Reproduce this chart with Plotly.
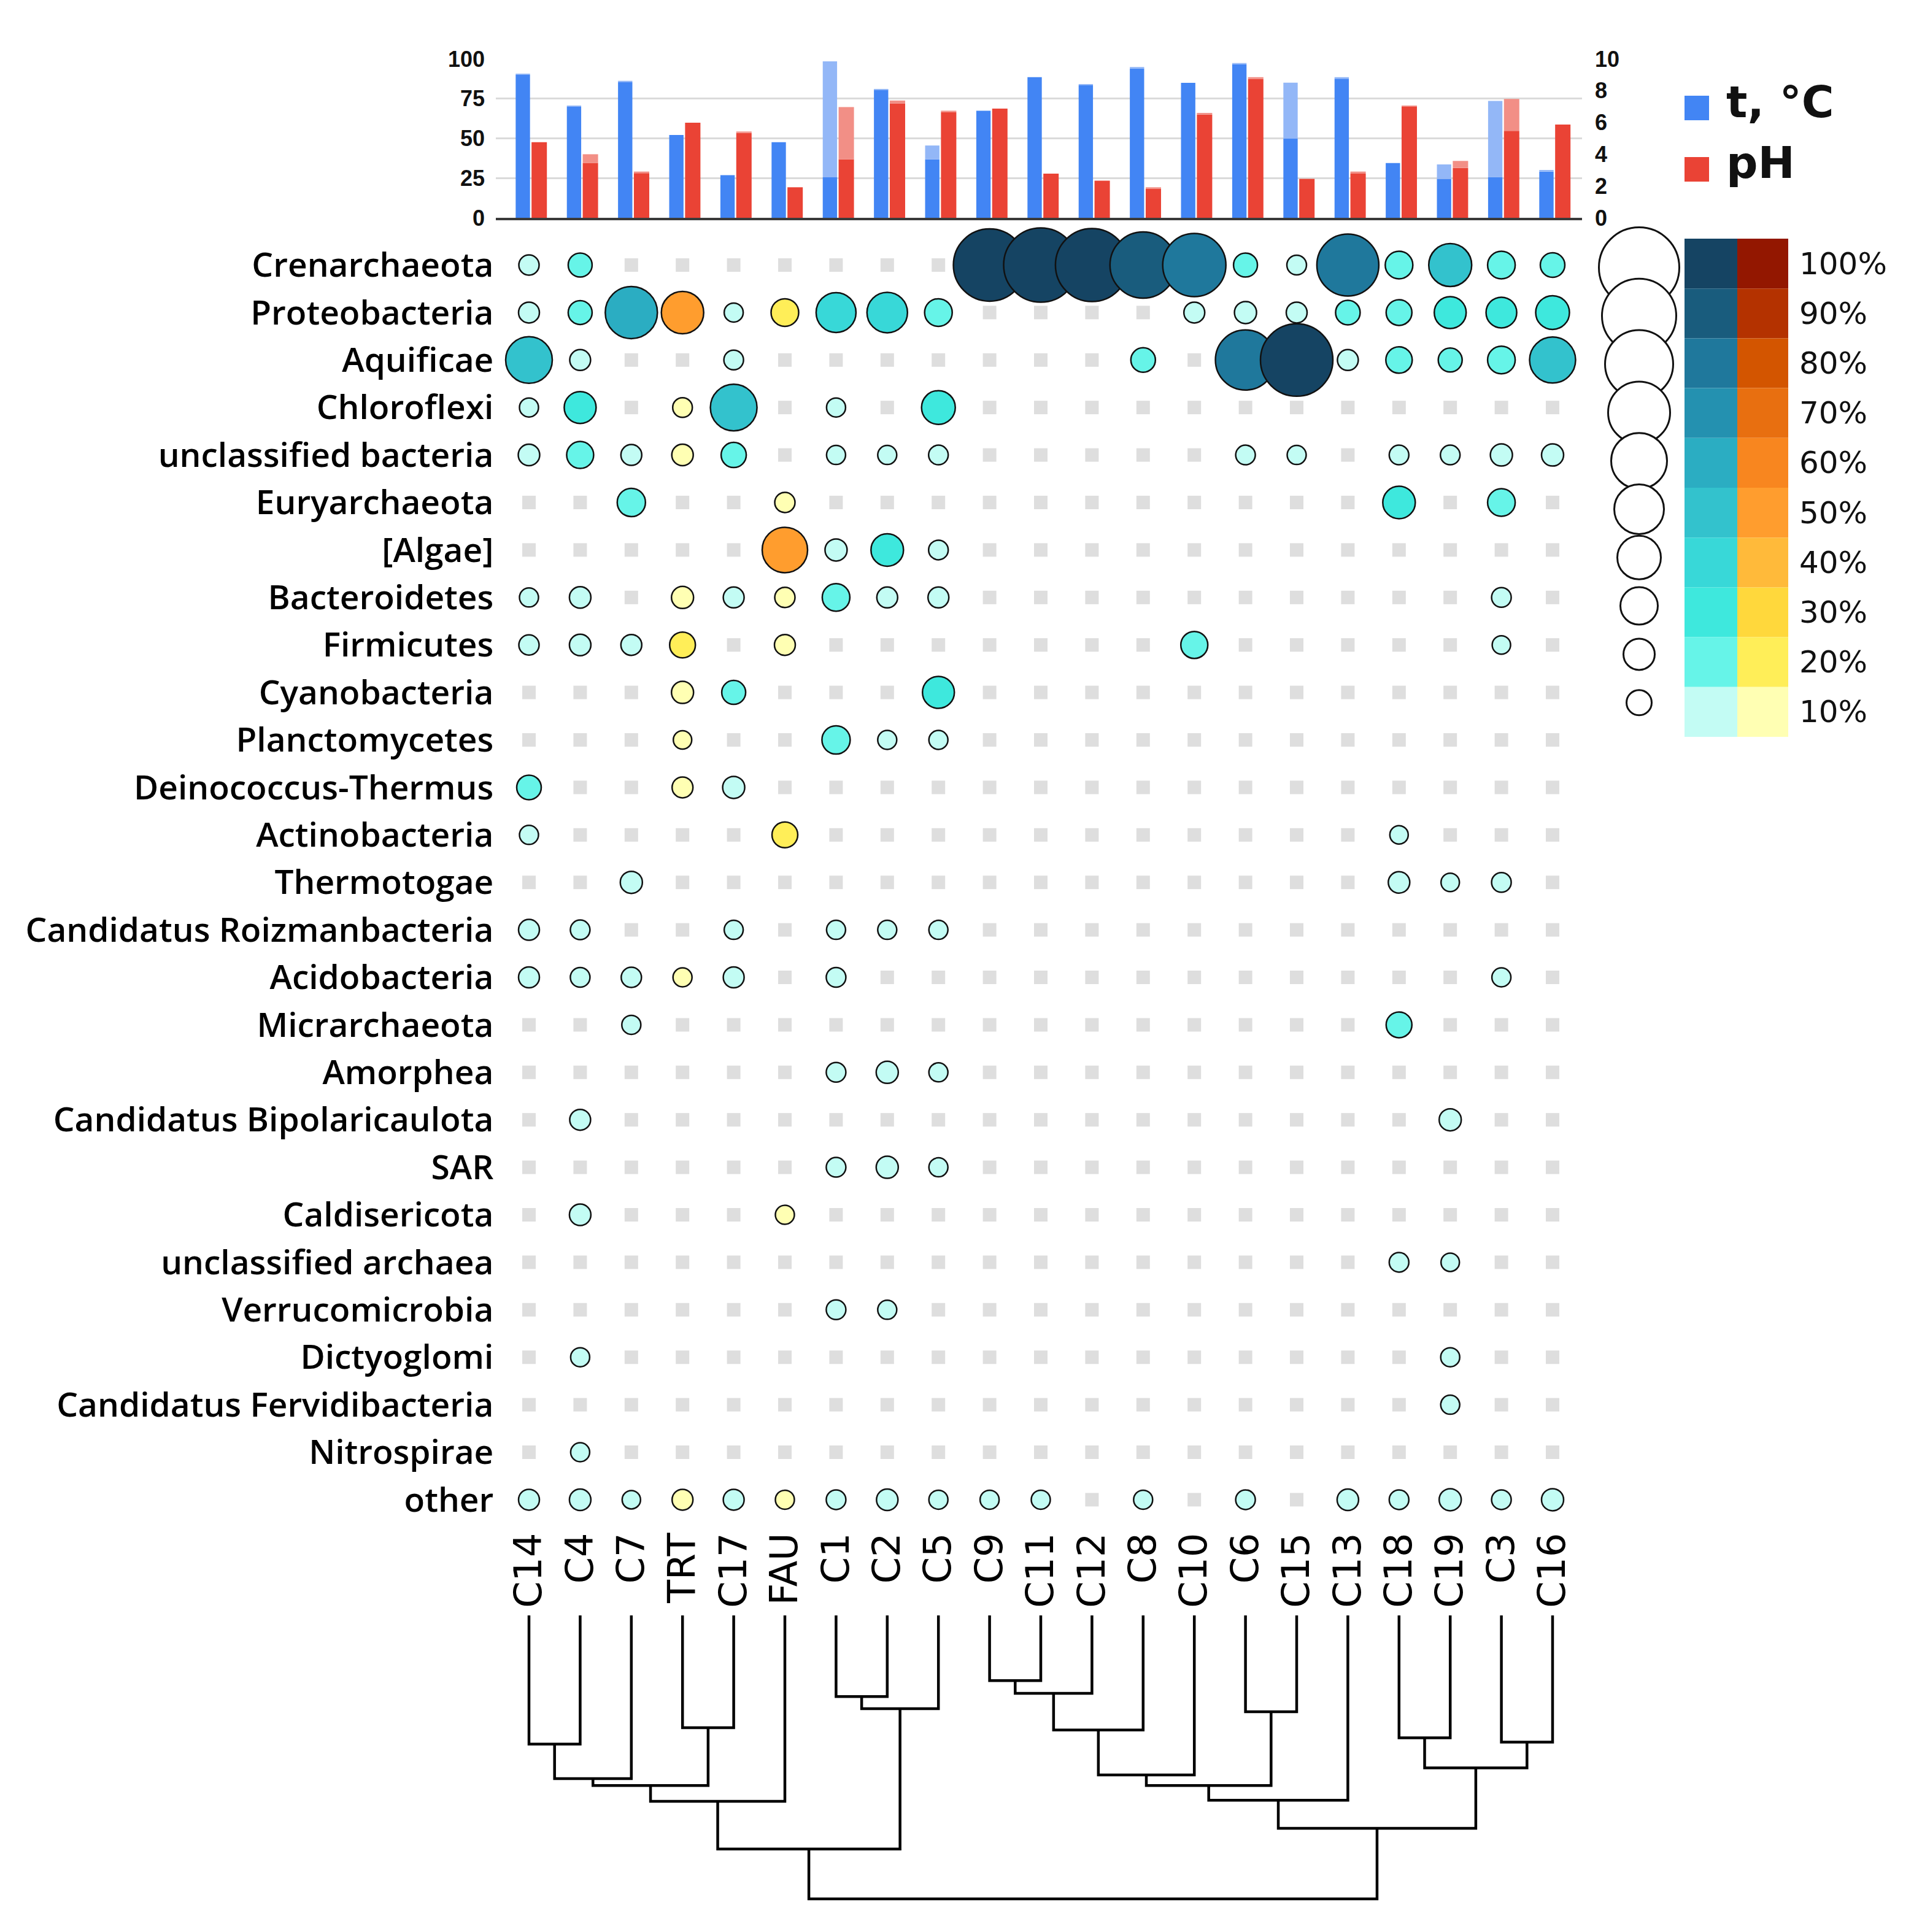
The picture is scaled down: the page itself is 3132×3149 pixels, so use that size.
import math
import plotly.graph_objects as go

W, H = 3132, 3149

# ---------------- data ----------------
samples = ["C14", "C4", "C7", "TRT", "C17", "FAU", "C1", "C2", "C5", "C9", "C11",
           "C12", "C8", "C10", "C6", "C15", "C13", "C18", "C19", "C3", "C16"]
orange_samples = ["TRT", "FAU"]

# temperature, degC (low value = solid bar, high value = top of pale range)
t_low = [90.0, 70.0, 85.3, 52.1, 26.8, 47.6, 25.5, 80.6, 36.8, 67.4, 88.5,
         83.4, 93.9, 84.9, 96.6, 49.8, 87.5, 34.5, 24.5, 25.7, 29.1]
t_high = [90.7, 70.6, 86.2, 52.1, 26.8, 47.6, 98.5, 81.1, 45.5, 67.4, 88.5,
          84.0, 94.9, 84.9, 97.4, 85.0, 88.5, 34.5, 33.6, 73.6, 30.1]
# pH
ph_low = [4.76, 3.46, 2.81, 5.98, 5.34, 1.92, 3.68, 7.20, 6.65, 6.87, 2.78,
          2.34, 1.83, 6.50, 8.75, 2.45, 2.78, 7.00, 3.14, 5.47, 5.87]
ph_high = [4.76, 4.00, 2.91, 5.98, 5.43, 1.92, 6.97, 7.38, 6.74, 6.87, 2.78,
           2.34, 1.92, 6.60, 8.85, 2.45, 2.91, 7.06, 3.58, 7.48, 5.87]

phyla = ["Crenarchaeota", "Proteobacteria", "Aquificae", "Chloroflexi",
         "unclassified bacteria", "Euryarchaeota", "[Algae]", "Bacteroidetes",
         "Firmicutes", "Cyanobacteria", "Planctomycetes", "Deinococcus-Thermus",
         "Actinobacteria", "Thermotogae", "Candidatus Roizmanbacteria",
         "Acidobacteria", "Micrarchaeota", "Amorphea", "Candidatus Bipolaricaulota",
         "SAR", "Caldisericota", "unclassified archaea", "Verrucomicrobia",
         "Dictyoglomi", "Candidatus Fervidibacteria", "Nitrospirae", "other"]

# relative abundance, % (columns follow `samples`)
crenarchaeota = [7, 13, 0, 0, 0, 0, 0, 0, 0, 92, 95, 93, 82, 77, 13, 6, 75, 19, 44, 19, 14]
proteobacteria = [8, 13, 59, 43, 5, 19, 39, 40, 19, 0, 0, 0, 0, 8, 10, 8, 14, 16, 26, 24, 29]
aquificae = [50, 8, 0, 0, 6, 0, 0, 0, 0, 0, 0, 0, 14, 0, 72, 92, 8, 17, 13, 19, 49]
chloroflexi = [5, 26, 0, 6, 50, 0, 5, 0, 29, 0, 0, 0, 0, 0, 0, 0, 0, 0, 0, 0, 0]
uncl_bacteria = [9, 18, 8, 9, 15, 0, 5, 5, 6, 0, 0, 0, 0, 0, 6, 5, 0, 6, 6, 10, 10]
euryarchaeota = [0, 0, 20, 0, 0, 7, 0, 0, 0, 0, 0, 0, 0, 0, 0, 0, 0, 27, 0, 19, 0]
algae = [0, 0, 0, 0, 0, 48, 10, 27, 6, 0, 0, 0, 0, 0, 0, 0, 0, 0, 0, 0, 0]
bacteroidetes = [5, 9, 0, 10, 8, 7, 19, 8, 8, 0, 0, 0, 0, 0, 0, 0, 0, 0, 0, 6, 0]
firmicutes = [7, 9, 8, 16, 0, 8, 0, 0, 0, 0, 0, 0, 0, 18, 0, 0, 0, 0, 0, 4, 0]
cyanobacteria = [0, 0, 0, 10, 13, 0, 0, 0, 26, 0, 0, 0, 0, 0, 0, 0, 0, 0, 0, 0, 0]
planctomycetes = [0, 0, 0, 4, 0, 0, 20, 5, 5, 0, 0, 0, 0, 0, 0, 0, 0, 0, 0, 0, 0]
deinococcus = [14, 0, 0, 8, 10, 0, 0, 0, 0, 0, 0, 0, 0, 0, 0, 0, 0, 0, 0, 0, 0]
actinobacteria = [5, 0, 0, 0, 0, 16, 0, 0, 0, 0, 0, 0, 0, 0, 0, 0, 0, 4, 0, 0, 0]
thermotogae = [0, 0, 10, 0, 0, 0, 0, 0, 0, 0, 0, 0, 0, 0, 0, 0, 0, 9, 4, 6, 0]
roizmanbacteria = [8, 6, 0, 0, 5, 0, 5, 5, 5, 0, 0, 0, 0, 0, 0, 0, 0, 0, 0, 0, 0]
acidobacteria = [8, 6, 7, 5, 8, 0, 6, 0, 0, 0, 0, 0, 0, 0, 0, 0, 0, 0, 0, 5, 0]
micrarchaeota = [0, 0, 5, 0, 0, 0, 0, 0, 0, 0, 0, 0, 0, 0, 0, 0, 0, 16, 0, 0, 0]
amorphea = [0, 0, 0, 0, 0, 0, 6, 10, 5, 0, 0, 0, 0, 0, 0, 0, 0, 0, 0, 0, 0]
bipolaricaulota = [0, 8, 0, 0, 0, 0, 0, 0, 0, 0, 0, 0, 0, 0, 0, 0, 0, 0, 10, 0, 0]
sar = [0, 0, 0, 0, 0, 0, 6, 10, 5, 0, 0, 0, 0, 0, 0, 0, 0, 0, 0, 0, 0]
caldisericota = [0, 9, 0, 0, 0, 5, 0, 0, 0, 0, 0, 0, 0, 0, 0, 0, 0, 0, 0, 0, 0]
uncl_archaea = [0, 0, 0, 0, 0, 0, 0, 0, 0, 0, 0, 0, 0, 0, 0, 0, 0, 6, 4, 0, 0]
verrucomicrobia = [0, 0, 0, 0, 0, 0, 6, 5, 0, 0, 0, 0, 0, 0, 0, 0, 0, 0, 0, 0, 0]
dictyoglomi = [0, 5, 0, 0, 0, 0, 0, 0, 0, 0, 0, 0, 0, 0, 0, 0, 0, 0, 5, 0, 0]
fervidibacteria = [0, 0, 0, 0, 0, 0, 0, 0, 0, 0, 0, 0, 0, 0, 0, 0, 0, 0, 5, 0, 0]
nitrospirae = [0, 5, 0, 0, 0, 0, 0, 0, 0, 0, 0, 0, 0, 0, 0, 0, 0, 0, 0, 0, 0]
other = [8, 9, 4, 8, 8, 5, 6, 9, 5, 5, 5, 0, 5, 0, 6, 0, 9, 6, 10, 6, 10]

legend_levels = [100, 90, 80, 70, 60, 50, 40, 30, 20, 10]
blue_scale = ["#C3FCF4", "#66F4E8", "#3EE8DD", "#38D8D8", "#33C2CD",
              "#2BADC2", "#2491B0", "#1F789C", "#195C7D", "#154463"]   # 10% .. 100%
orange_scale = ["#FFFFB3", "#FFEE58", "#FFD83C", "#FFBA3A", "#FF9D2E",
                "#F8861F", "#E86F10", "#D35500", "#B43200", "#931700"]

# hierarchical clustering of samples: (cluster a, cluster b, merge height)
merges = [
    ("C14", "C4", 0.454), ("m0", "C7", 0.576), ("TRT", "C17", 0.396),
    ("m1", "m2", 0.600), ("m3", "FAU", 0.656), ("C1", "C2", 0.286),
    ("m5", "C5", 0.329), ("m4", "m6", 0.824), ("C9", "C11", 0.230),
    ("m8", "C12", 0.275), ("m9", "C8", 0.404), ("m10", "C10", 0.563),
    ("C6", "C15", 0.340), ("m11", "m12", 0.600), ("m13", "C13", 0.652),
    ("C18", "C19", 0.432), ("C3", "C16", 0.447), ("m15", "m16", 0.538),
    ("m14", "m17", 0.751), ("m7", "m18", 1.000),
]

abundance = [crenarchaeota, proteobacteria, aquificae, chloroflexi, uncl_bacteria,
             euryarchaeota, algae, bacteroidetes, firmicutes, cyanobacteria,
             planctomycetes, deinococcus, actinobacteria, thermotogae,
             roizmanbacteria, acidobacteria, micrarchaeota, amorphea,
             bipolaricaulota, sar, caldisericota, uncl_archaea, verrucomicrobia,
             dictyoglomi, fervidibacteria, nitrospirae, other]

# ---------------- layout helpers ----------------
def fx(px):
    return px / W


def fy(py):
    return 1 - py / H


COL0, COLSTEP = 854.0, 83.4        # pixel x of first column and spacing
ROW0, ROWSTEP = 424.0, 77.4        # pixel y of first row and spacing
n_col, n_row = len(samples), len(phyla)


def bin_index(p):
    return max(1, min(10, math.ceil(p / 10))) - 1


def bubble_size(p):
    return 26 + p


fig = go.Figure()

# ---------------- top bar chart ----------------
idx = list(range(n_col))
BLUE, BLUE_L, RED, RED_L = "#4285F4", "#93B7F7", "#EA4335", "#F28F86"
fig.add_bar(x=idx, y=t_low, marker=dict(color=BLUE, line_width=0),
            offset=-0.26, width=0.28, xaxis="x", yaxis="y")
fig.add_bar(x=idx, y=[h - l for h, l in zip(t_high, t_low)], base=t_low,
            marker=dict(color=BLUE_L, line_width=0),
            offset=-0.26, width=0.28, xaxis="x", yaxis="y")
fig.add_bar(x=idx, y=ph_low, marker=dict(color=RED, line_width=0),
            offset=0.05, width=0.30, xaxis="x", yaxis="y2")
fig.add_bar(x=idx, y=[h - l for h, l in zip(ph_high, ph_low)], base=ph_low,
            marker=dict(color=RED_L, line_width=0),
            offset=0.05, width=0.30, xaxis="x", yaxis="y2")

# ---------------- bubble matrix ----------------
zx, zy = [], []
bx, by, bs, bc = [], [], [], []
for r, row in enumerate(abundance):
    for c, p in enumerate(row):
        if p <= 0:
            zx.append(c)
            zy.append(r)
        else:
            scale = orange_scale if samples[c] in orange_samples else blue_scale
            bx.append(c)
            by.append(r)
            bs.append(bubble_size(p))
            bc.append(scale[bin_index(p)])

fig.add_scatter(x=zx, y=zy, mode="markers", xaxis="x2", yaxis="y3",
                marker=dict(symbol="square", size=22, color="#DEDEDE", line_width=0,
                            opacity=1),
                cliponaxis=False, hoverinfo="skip")
fig.add_scatter(x=bx, y=by, mode="markers", xaxis="x2", yaxis="y3",
                marker=dict(symbol="circle", size=bs, color=bc, opacity=1,
                            line=dict(color="#111111", width=2.5)),
                cliponaxis=False, hoverinfo="skip")

# ---------------- dendrogram ----------------
node_x = {s: float(i) for i, s in enumerate(samples)}
node_h = {s: 0.0 for s in samples}
dx, dy = [], []
for k, (a, b, h) in enumerate(merges):
    xa, xb = node_x[a], node_x[b]
    dx += [xa, xa, xb, xb, None]
    dy += [node_h[a], h, h, node_h[b], None]
    node_x[f"m{k}"] = (xa + xb) / 2
    node_h[f"m{k}"] = h
fig.add_scatter(x=dx, y=dy, mode="lines", xaxis="x3", yaxis="y4",
                line=dict(color="#000000", width=4.5), hoverinfo="skip")

# ---------------- axes ----------------
tick_font = dict(family="Liberation Sans, Arial", size=36, color="#111111", weight="bold")
bar_left, bar_right = 800.0, 2570.0
y_bar_bottom, y_bar_top = 347.0, 88.0
mat_left = COL0 - 0.5 * COLSTEP
mat_right = COL0 + (n_col - 0.5) * COLSTEP
mat_top = ROW0 - 0.5 * ROWSTEP
mat_bottom = ROW0 + (n_row - 0.5) * ROWSTEP
DEN_TOP, DEN_SPAN = 2625.0, 462.0

fig.update_layout(
    width=W, height=H, margin=dict(l=0, r=0, t=0, b=0),
    paper_bgcolor="white", plot_bgcolor="rgba(0,0,0,0)",
    showlegend=False, barmode="overlay", template="none",
    xaxis=dict(domain=[fx(bar_left), fx(bar_right)],
               range=[(bar_left - COL0) / COLSTEP, (bar_right - COL0) / COLSTEP],
               anchor="y", showticklabels=False, ticks="", showgrid=False,
               zeroline=False, showline=True, linecolor="#3A3A3A", linewidth=4,
               automargin=False, fixedrange=True),
    yaxis=dict(domain=[fy(y_bar_bottom), fy(y_bar_top)], range=[0, 100],
               tickvals=[0, 25, 50, 75, 100], anchor="x", showgrid=True,
               gridcolor="#DADADA", gridwidth=3, zeroline=False, showline=False,
               ticks="", tickfont=tick_font, ticklabelstandoff=17, automargin=False),
    yaxis2=dict(overlaying="y", side="right", range=[0, 10],
                tickvals=[0, 2, 4, 6, 8, 10], anchor="x", showgrid=False,
                zeroline=False, showline=False, ticks="", tickfont=tick_font,
                ticklabelstandoff=20, automargin=False),
    xaxis2=dict(domain=[fx(mat_left), fx(mat_right)], range=[-0.5, n_col - 0.5],
                anchor="y3", tickvals=idx, ticktext=samples, tickangle=-90,
                tickfont=dict(family="DejaVu Sans", size=62, color="#000000"),
                ticks="", showgrid=False, zeroline=False, showline=False,
                ticklabelstandoff=2, automargin=False),
    yaxis3=dict(domain=[fy(mat_bottom), fy(mat_top)], range=[n_row - 0.5, -0.5],
                anchor="x2", tickvals=list(range(n_row)), ticktext=phyla,
                tickfont=dict(family="Open Sans", size=55, color="#000000", weight=600),
                ticks="", showgrid=False, zeroline=False, showline=False,
                ticklabelstandoff=15, automargin=False),
    xaxis3=dict(domain=[fx(mat_left), fx(mat_right)], range=[-0.5, n_col - 0.5],
                anchor="y4", visible=False),
    yaxis4=dict(domain=[fy(DEN_TOP + 1.02 * DEN_SPAN), fy(DEN_TOP - 0.02 * DEN_SPAN)],
                range=[1.02, -0.02], anchor="x3", visible=False),
)

# ---------------- legends ----------------
shapes, annotations = [], []
# t / pH legend
leg_items = [("t, °C", BLUE, 168.0, 158.0), ("pH", RED, 268.0, 257.0)]
for label, color, cy, ty in leg_items:
    shapes.append(dict(type="rect", xref="paper", yref="paper",
                       x0=fx(2737), x1=fx(2777), y0=fy(cy + 20), y1=fy(cy - 20),
                       fillcolor=color, line_width=0))
    annotations.append(dict(text=f"<b>{label}</b>", xref="paper", yref="paper",
                            x=fx(2803), y=fy(ty), xanchor="left", yanchor="middle",
                            showarrow=False,
                            font=dict(family="DejaVu Sans", size=72, color="#111111")))

# size legend (overlapping white circles) and colour legend blocks
block_top, block_h = 381.0, 81.2
for k, lev in enumerate(legend_levels):
    cy = 428.0 + k * 78.8
    d = lev + 31
    shapes.append(dict(type="circle", xref="paper", yref="paper",
                       x0=fx(2663 - d / 2), x1=fx(2663 + d / 2),
                       y0=fy(cy + d / 2), y1=fy(cy - d / 2),
                       fillcolor="white", line=dict(color="#111111", width=3)))
    bi = bin_index(lev)
    y0b = block_top + k * block_h
    shapes.append(dict(type="rect", xref="paper", yref="paper",
                       x0=fx(2737), x1=fx(2823), y0=fy(y0b + block_h), y1=fy(y0b),
                       fillcolor=blue_scale[bi], line_width=0, layer="below"))
    shapes.append(dict(type="rect", xref="paper", yref="paper",
                       x0=fx(2823), x1=fx(2906), y0=fy(y0b + block_h), y1=fy(y0b),
                       fillcolor=orange_scale[bi], line_width=0, layer="below"))
    annotations.append(dict(text=f"{lev}%", xref="paper", yref="paper",
                            x=fx(2922), y=fy(y0b + block_h / 2), xanchor="left",
                            yanchor="middle", showarrow=False,
                            font=dict(family="DejaVu Sans", size=50, color="#111111")))

fig.update_layout(shapes=shapes, annotations=annotations)

fig.write_html("out.html")
